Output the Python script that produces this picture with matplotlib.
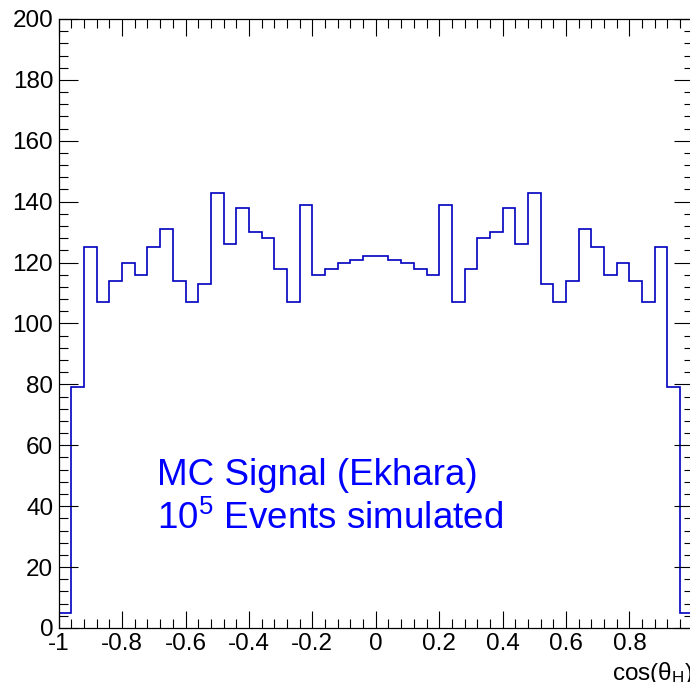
import numpy as np
import matplotlib
matplotlib.use("Agg")
import matplotlib.pyplot as plt

plt.rcParams['font.family'] = ['Liberation Sans', 'DejaVu Sans']
plt.rcParams['mathtext.fontset'] = 'custom'
plt.rcParams['mathtext.rm'] = 'Liberation Sans'
plt.rcParams['mathtext.it'] = 'Liberation Sans:italic'
plt.rcParams['axes.unicode_minus'] = False

# 50 bins in cos(theta_H)
bin_edges = np.linspace(-1, 1, 51)
counts = [5, 79, 125, 107, 114, 120, 116, 125, 131, 114,
          107, 113, 143, 126, 138, 130, 128, 118, 107, 139,
          116, 118, 120, 121, 122, 122, 121, 120, 118, 116,
          139, 107, 118, 128, 130, 138, 126, 143, 113, 107,
          114, 131, 125, 116, 120, 114, 107, 125, 79, 5]

x_ticks = [-1, -0.8, -0.6, -0.4, -0.2, 0, 0.2, 0.4, 0.6, 0.8, 1]
x_tick_labels = ["-1", "-0.8", "-0.6", "-0.4", "-0.2", "0", "0.2", "0.4", "0.6", "0.8", ""]
y_ticks = [0, 20, 40, 60, 80, 100, 120, 140, 160, 180, 200]

fig = plt.figure(figsize=(6.9, 6.82), dpi=100)
ax = fig.add_axes([0.0851, 0.0792, 0.919, 0.893])

ax.stairs(counts, bin_edges, baseline=0, color="#0000c0", linewidth=1.2)

ax.set_xlim(-1, 1)
ax.set_ylim(0, 200)
ax.set_xticks(x_ticks)
ax.set_xticklabels(x_tick_labels)
ax.set_yticks(y_ticks)
ax.set_xticks(np.arange(-1, 1.001, 0.04), minor=True)
ax.set_yticks(np.arange(0, 201, 4), minor=True)

ax.tick_params(axis="both", which="both", direction="in", top=True, right=True,
               labelsize=17.5, width=0.8, colors="black")
ax.tick_params(axis="x", which="major", length=12.2, pad=3.6)
ax.tick_params(axis="y", which="major", length=13.7, pad=4)
ax.tick_params(axis="both", which="minor", length=6.5)
for sp in ax.spines.values():
    sp.set_linewidth(0.9)

ax.text(-0.691, 46.8, "MC Signal (Ekhara)", color="blue", fontsize=26.5, va="baseline")
ax.text(-0.691, 32.6, r"10$^{5}$ Events simulated", color="blue", fontsize=26.5, va="baseline")

ax.text(1.0, -0.085, r"cos(θ$_{\mathrm{H}}$)", transform=ax.transAxes,
        ha="right", va="baseline", fontsize=17.5)

fig.savefig("out.png", dpi=100)
